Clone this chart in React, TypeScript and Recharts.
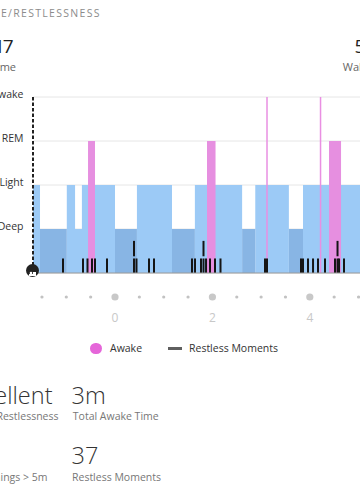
import React from 'react';
import { ComposedChart, Area, XAxis, YAxis, CartesianGrid, ReferenceLine } from 'recharts';

// hours relative to the "0" tick
const xStart = -1.684;
const xEnd = 6.016;

const stageStarts = [-1.684, -1.54, -0.99, -0.82, -0.68, 0, 0.45, 1.17, 1.64, 2.61, 2.88, 3.57, 3.86];
const stageNames = ['light', 'deep', 'light', 'mid', 'light', 'deep', 'light', 'deep', 'light', 'deep', 'light', 'deep', 'light'];

const awakeStarts = [-0.554, 1.889, 4.394];
const awakeEnds = [-0.411, 2.064, 4.641];
const awakeBlips = [3.121, 4.22];

const restlessTimes = [
  -1.068, -0.657, -0.565, -0.472, -0.411, -0.164, 0.39, 0.39, 0.441, 0.698, 0.801,
  1.581, 1.643, 1.766, 1.817, 1.817, 1.869, 1.951, 2.053, 2.166, 3.08, 3.121,
  3.819, 3.86, 3.963, 4.066, 4.168, 4.312, 4.517, 4.569, 4.569, 4.6, 4.702,
];
const restlessStack = [
  1, 1, 1, 1, 1, 1, 1, 2, 1, 1, 1,
  1, 1, 1, 1, 2, 1, 1, 1, 1, 1, 1,
  1, 1, 1, 1, 1, 1, 1, 1, 2, 1, 1,
];

const hourTicks = [-1.5, -1, -0.5, 0, 0.5, 1, 1.5, 2, 2.5, 3, 3.5, 4, 4.5, 5, 5.5];
const labelledHours = [0, 2, 4];

const levelLabels = ['', 'Deep', 'Light', 'REM', 'Awake'];

const stageAt = (t: number) => {
  let idx = 0;
  stageStarts.forEach((s, i) => {
    if (s <= t + 1e-9) idx = i;
  });
  return stageNames[idx];
};

const breaks = Array.from(new Set([...stageStarts, ...awakeStarts, ...awakeEnds, xEnd])).sort((a, b) => a - b);
const data = breaks.map(t => {
  const st = stageAt(t);
  const awake = awakeStarts.some((s, i) => s <= t + 1e-9 && t < awakeEnds[i] - 1e-9);
  return {
    t,
    light: st === 'light' ? 2 : st === 'mid' ? 1 : 0,
    deep: st === 'deep' ? 1 : 0,
    awake: awake ? 3 : 0,
  };
});

const HourTick = (props: any) => {
  const { x, y, payload } = props;
  const big = labelledHours.includes(payload.value);
  return (
    <g>
      <circle cx={x} cy={y + 24} r={big ? 3.6 : 1.6} fill={big ? '#c8c8c8' : '#c2c2c2'} />
      {big && (
        <text x={x} y={y + 49} textAnchor="middle" fontSize={12} fill="#c8c8c8" fontFamily="Open Sans">
          {payload.value}
        </text>
      )}
    </g>
  );
};

const LevelTick = (props: any) => {
  const { y, payload } = props;
  const label = levelLabels[payload.value];
  if (!label) return null;
  return (
    <text x={23.5} y={y + 1} textAnchor="end" fontSize={10.5} fill="#333" fontFamily="Open Sans">
      {label}
    </text>
  );
};

const Txt = ({ left, right, top, size, color = '#333', weight = 400, spacing, children }: any) => (
  <div
    style={{
      position: 'absolute',
      left,
      right,
      top,
      fontSize: size,
      lineHeight: 1,
      color,
      fontWeight: weight,
      letterSpacing: spacing,
      whiteSpace: 'nowrap',
    }}
  >
    {children}
  </div>
);

export default function App() {
  return (
    <div
      style={{
        position: 'absolute',
        left: 0,
        top: 0,
        width: 360,
        height: 490,
        overflow: 'hidden',
        background: '#fff',
        fontFamily: '"Open Sans", sans-serif',
      }}
    >
      <Txt right={259.2} top={7.5} size={10.5} color="#8c8c8c" spacing={1.3}>SLEEP STAGE/RESTLESSNESS</Txt>
      <Txt right={348.4} top={36.7} size={19} color="#222" spacing={-2}>17</Txt>
      <Txt right={344} top={61} size={11} color="#666">Sleep Time</Txt>
      <Txt left={354.5} top={36.7} size={19} color="#222">5</Txt>
      <Txt left={342.8} top={61} size={11} color="#666">Wake Time</Txt>

      <div style={{ position: 'absolute', left: 0, top: 80 }}>
        <ComposedChart width={408} height={243} data={data} margin={{ top: 17, right: 0, bottom: 0, left: 0 }}>
          <CartesianGrid vertical={false} stroke="#e6e6e6" />
          <XAxis
            type="number"
            dataKey="t"
            domain={[xStart, xEnd]}
            allowDataOverflow
            ticks={hourTicks}
            interval={0}
            tick={<HourTick />}
            tickLine={false}
            tickSize={0}
            tickMargin={0}
            height={50}
            axisLine={{ stroke: '#9a9a9a' }}
          />
          <YAxis
            type="number"
            domain={[0, 4]}
            ticks={[0, 1, 2, 3, 4]}
            width={33}
            tick={<LevelTick />}
            tickLine={false}
            axisLine={{ stroke: '#222', strokeWidth: 2, strokeDasharray: '3.5 2' }}
          />
          <Area type="stepAfter" dataKey="light" stroke="none" fill="#9ccaf6" fillOpacity={1} dot={false} activeDot={false} isAnimationActive={false} />
          <Area type="stepAfter" dataKey="deep" stroke="none" fill="#88b5e4" fillOpacity={1} dot={false} activeDot={false} isAnimationActive={false} />
          <Area type="stepAfter" dataKey="awake" stroke="none" fill="#e68fe0" fillOpacity={1} dot={false} activeDot={false} isAnimationActive={false} />
          {awakeBlips.map(t => (
            <ReferenceLine key={`b-${t}`} x={t} stroke="#e98fe2" strokeWidth={1.5} />
          ))}
          {restlessTimes.map((t, i) => {
            const lower = restlessStack[i] === 1;
            return (
              <ReferenceLine
                key={`r-${i}`}
                segment={[
                  { x: t, y: lower ? 0 : 0.38 },
                  { x: t, y: lower ? 0.33 : 0.73 },
                ]}
                stroke="#151515"
                strokeWidth={2}
              />
            );
          })}
        </ComposedChart>
      </div>

      <div
        style={{
          position: 'absolute',
          left: 25.5,
          top: 264,
          width: 13,
          height: 13,
          borderRadius: '50%',
          background: '#222',
        }}
      >
        <svg width={13} height={13}>
          <rect x={3} y={6} width={7} height={2} fill="#fff" />
          <circle cx={5} cy={5} r={1.3} fill="#fff" />
          <rect x={7} y={4} width={3} height={2} fill="#fff" />
        </svg>
      </div>

      <div style={{ position: 'absolute', left: 90.3, top: 343, width: 11.4, height: 11.4, borderRadius: '50%', background: '#e566d9' }} />
      <Txt left={110} top={343.1} size={10.5} color="#333">Awake</Txt>
      <div style={{ position: 'absolute', left: 168, top: 346.5, width: 14, height: 3, background: '#5f5f5f' }} />
      <Txt left={189} top={343.1} size={10.5} color="#333">Restless Moments</Txt>

      <Txt right={307.5} top={384.2} size={23.5} weight={300}>Excellent</Txt>
      <Txt right={301.5} top={410.7} size={10.5} color="#777">Restlessness</Txt>
      <Txt left={71.5} top={384.2} size={23.5} weight={300}>3m</Txt>
      <Txt left={72.8} top={410.7} size={10.5} color="#777">Total Awake Time</Txt>

      <Txt right={312.5} top={471.7} size={10.5} color="#777">Awakenings &gt; 5m</Txt>
      <Txt left={71.5} top={443.9} size={23.5} weight={300}>37</Txt>
      <Txt left={72} top={471.7} size={10.5} color="#777">Restless Moments</Txt>
    </div>
  );
}
